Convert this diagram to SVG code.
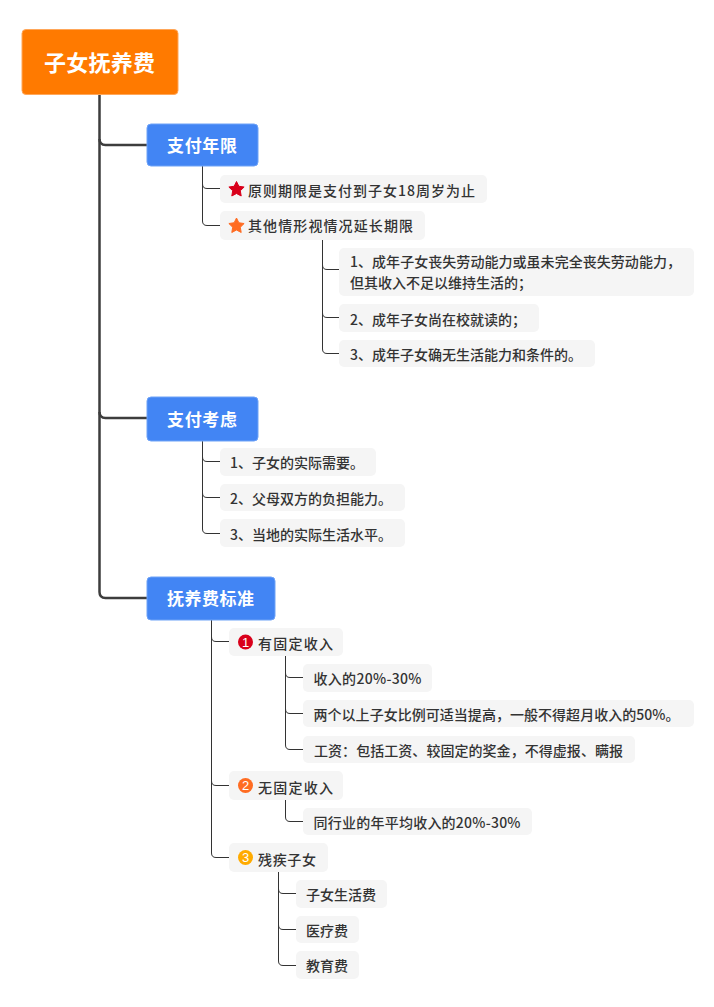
<svg xmlns="http://www.w3.org/2000/svg" width="714" height="1007" viewBox="0 0 714 1007">
<style>
text{font-family:"Noto Sans CJK SC","Noto Sans",sans-serif;}
.leaf rect{fill:#f5f5f5;}
.leaf text{font-size:14px;font-weight:500;fill:#333;}
.leaf text.d{fill:#fff;font-family:"Liberation Sans",sans-serif;font-size:13px;text-anchor:middle;}
.br rect{fill:#4285f4;stroke:#6fa3f7;stroke-width:1;}
.br text{font-size:17px;font-weight:700;fill:#fff;}
.c1{fill:none;stroke:#3d3d3d;stroke-width:2.5;}
.c2{fill:none;stroke:#333;stroke-width:1;}
</style>
<defs><path id="star" d="M0 -8L2.350 -3.240L7.610 -2.470L3.800 1.240L4.700 6.470L0 4L-4.700 6.470L-3.800 1.240L-7.610 -2.470L-2.350 -3.240Z" stroke-width="1" stroke-linejoin="round"/></defs>
<rect width="714" height="1007" fill="#fff"/>
<g id="connectors">
<path class="c1" d="M99.500 94V139Q99.500 145 105.500 145H147"/>
<path class="c1" d="M99.500 139V412Q99.500 418 105.500 418H147"/>
<path class="c1" d="M99.500 412V592Q99.500 598 105.500 598H147"/>
<path class="c2" d="M202.500 166V184Q202.500 188.500 207 188.500H220"/>
<path class="c2" d="M202.500 184V221Q202.500 225.500 207 225.500H220"/>
<path class="c2" d="M322.500 240V265Q322.500 269.500 327 269.500H339"/>
<path class="c2" d="M322.500 265V313Q322.500 317.500 327 317.500H339"/>
<path class="c2" d="M322.500 313V349Q322.500 353.500 327 353.500H339"/>
<path class="c2" d="M202.500 441V457Q202.500 461.500 207 461.500H220"/>
<path class="c2" d="M202.500 457V493Q202.500 497.500 207 497.500H220"/>
<path class="c2" d="M202.500 493V529Q202.500 533.500 207 533.500H220"/>
<path class="c2" d="M211.500 620V637Q211.500 641.500 216 641.500H229"/>
<path class="c2" d="M211.500 637V781Q211.500 785.500 216 785.500H229"/>
<path class="c2" d="M211.500 781V853Q211.500 857.500 216 857.500H229"/>
<path class="c2" d="M285.500 656V673Q285.500 677.500 290 677.500H303"/>
<path class="c2" d="M285.500 673V709Q285.500 713.500 290 713.500H303"/>
<path class="c2" d="M285.500 709V745Q285.500 749.500 290 749.500H303"/>
<path class="c2" d="M285.500 800V817Q285.500 821.500 290 821.500H303"/>
<path class="c2" d="M278.500 872V889Q278.500 893.500 283 893.500H296"/>
<path class="c2" d="M278.500 889V925Q278.500 929.500 283 929.500H296"/>
<path class="c2" d="M278.500 925V961Q278.500 965.500 283 965.500H296"/>
</g>
<g id="root"><rect x="22" y="29.500" width="156" height="65" rx="4" fill="#ff7a00" stroke="#ffa75a" stroke-width="1"/><text x="44" y="71" font-size="22" font-weight="700" fill="#fff" textLength="111">子女抚养费</text></g>
<g id="n1" class="br"><rect x="147" y="124" width="111" height="42" rx="4"/><text x="167" y="152" textLength="70">支付年限</text></g>
<g id="n11" class="leaf"><rect x="220" y="175" width="267" height="28" rx="5"/><use href="#star" x="236.500" y="189.500" fill="#d9001b" stroke="#d9001b"/><text x="248" y="196" textLength="227">原则期限是支付到子女18周岁为止</text></g>
<g id="n12" class="leaf"><rect x="220" y="211" width="205" height="29" rx="5"/><use href="#star" x="236.500" y="226" fill="#ff6c22" stroke="#ff6c22"/><text x="248" y="231" textLength="165">其他情形视情况延长期限</text></g>
<g id="n121" class="leaf"><rect x="339" y="248" width="355" height="48" rx="5"/><text x="350" y="267" textLength="331">1、成年子女丧失劳动能力或虽未完全丧失劳动能力，</text><text x="350" y="288" textLength="182">但其收入不足以维持生活的；</text></g>
<g id="n122" class="leaf"><rect x="339" y="304" width="200" height="28" rx="5"/><text x="350" y="325" textLength="176">2、成年子女尚在校就读的；</text></g>
<g id="n123" class="leaf"><rect x="339" y="340" width="256" height="27" rx="5"/><text x="350" y="360" textLength="232">3、成年子女确无生活能力和条件的。</text></g>
<g id="n2" class="br"><rect x="147" y="397" width="111" height="44" rx="4"/><text x="167" y="426" textLength="70">支付考虑</text></g>
<g id="n21" class="leaf"><rect x="220" y="448" width="156" height="28" rx="5"/><text x="230" y="468" textLength="134">1、子女的实际需要。</text></g>
<g id="n22" class="leaf"><rect x="220" y="484" width="185" height="27" rx="5"/><text x="230" y="504" textLength="162">2、父母双方的负担能力。</text></g>
<g id="n23" class="leaf"><rect x="220" y="519" width="185" height="28" rx="5"/><text x="230" y="540" textLength="162">3、当地的实际生活水平。</text></g>
<g id="n3" class="br"><rect x="147" y="577" width="128" height="43" rx="4"/><text x="167" y="605" textLength="87">抚养费标准</text></g>
<g id="n31" class="leaf"><rect x="229" y="628" width="114" height="28" rx="5"/><circle cx="245.500" cy="642" r="7.500" fill="#d9001b"/><text class="d" x="245.500" y="646.500" font-weight="700">1</text><text x="258" y="649" textLength="75">有固定收入</text></g>
<g id="n311" class="leaf"><rect x="303" y="664" width="129" height="28" rx="5"/><text x="313.500" y="684" textLength="108">收入的20%-30%</text></g>
<g id="n312" class="leaf"><rect x="303" y="700" width="391" height="27" rx="5"/><text x="313.500" y="720" textLength="366">两个以上子女比例可适当提高，一般不得超月收入的50%。</text></g>
<g id="n313" class="leaf"><rect x="303" y="736" width="332" height="27" rx="5"/><text x="314" y="756" textLength="309">工资：包括工资、较固定的奖金，不得虚报、瞒报</text></g>
<g id="n32" class="leaf"><rect x="229" y="771" width="114" height="29" rx="5"/><circle cx="245.500" cy="785.500" r="7.500" fill="#ff6c22"/><text class="d" x="245.500" y="790">2</text><text x="258" y="793" textLength="75">无固定收入</text></g>
<g id="n321" class="leaf"><rect x="303" y="808" width="229" height="27" rx="5"/><text x="313.500" y="828" textLength="207">同行业的年平均收入的20%-30%</text></g>
<g id="n33" class="leaf"><rect x="229" y="843" width="99" height="29" rx="5"/><circle cx="245.500" cy="857.500" r="7.500" fill="#ffab00"/><text class="d" x="245.500" y="862">3</text><text x="258" y="865" textLength="58">残疾子女</text></g>
<g id="n331" class="leaf"><rect x="296" y="880" width="91" height="28" rx="5"/><text x="306" y="900" textLength="70">子女生活费</text></g>
<g id="n332" class="leaf"><rect x="296" y="916" width="63" height="27" rx="5"/><text x="306" y="936" textLength="42">医疗费</text></g>
<g id="n333" class="leaf"><rect x="296" y="951" width="63" height="28" rx="5"/><text x="306" y="971" textLength="42">教育费</text></g>
</svg>
